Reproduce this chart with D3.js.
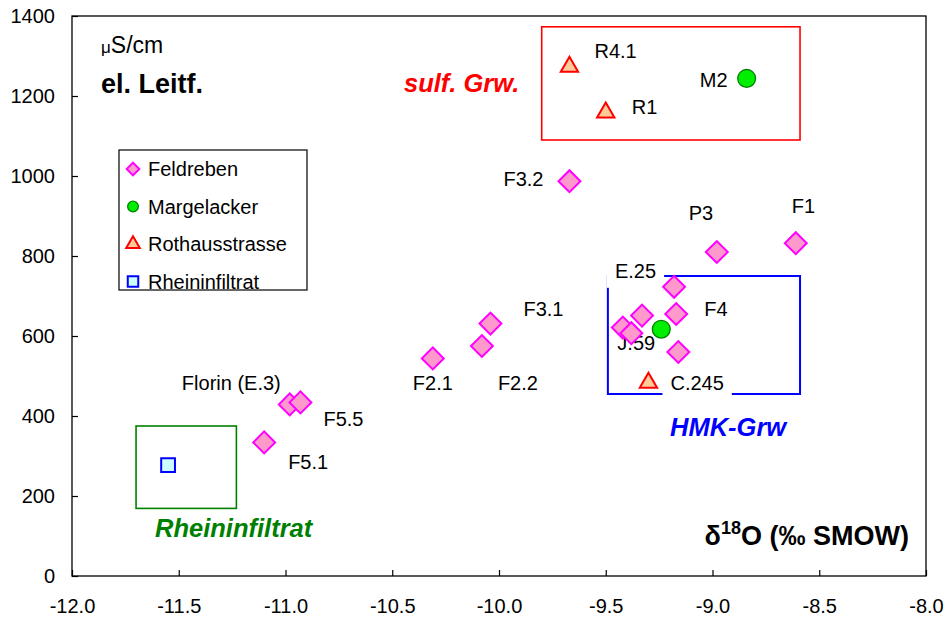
<!DOCTYPE html>
<html>
<head>
<meta charset="utf-8">
<script src="https://cdn.jsdelivr.net/npm/d3@7/dist/d3.min.js"></script>
<style>
  html, body { margin: 0; padding: 0; background: #fff; }
  svg text { font-family: "Liberation Sans", Arial, Helvetica, sans-serif; }
</style>
</head>
<body>
<svg id="chart" width="950" height="622"></svg>
<script>
// Electrical conductivity vs. delta-18O for groundwater sampling sites

const xTicks = [-12.0, -11.5, -11.0, -10.5, -10.0, -9.5, -9.0, -8.5, -8.0];
const yTicks = [0, 200, 400, 600, 800, 1000, 1200, 1400];

// Feldreben wells: [label, delta18O, conductivity]
const feldreben = [
  ["F3.2", -9.67, 987],
  ["P3", -8.98, 810],
  ["F1", -8.61, 832],
  ["E.25", -9.18, 723],
  ["F4", -9.17, 655],
  ["", -9.33, 651],
  ["", -9.42, 621],
  ["J.59", -9.38, 607],
  ["", -9.16, 560],
  ["F3.1", -10.04, 631],
  ["F2.2", -10.08, 575],
  ["F2.1", -10.31, 544],
  ["Florin (E.3)", -10.98, 429],
  ["F5.5", -10.93, 434],
  ["F5.1", -11.10, 334]
];
const margelacker = [
  ["M2", -8.84, 1244],
  ["", -9.24, 617]
];
const rothausstrasse = [
  ["R4.1", -9.67, 1273],
  ["R1", -9.50, 1159],
  ["C.245", -9.30, 483]
];
const rheininfiltrat = [
  ["", -11.55, 277]
];

// Groundwater type regions: [name, x0, x1, y0, y1]
const regions = [
  ["sulf. Grw.", -9.80, -8.59, 1090, 1373],
  ["Rheininfiltrat", -11.70, -11.23, 169, 375],
  ["HMK-Grw", -9.49, -8.59, 455, 750]
];

const legendNames = ["Feldreben", "Margelacker", "Rothausstrasse", "Rheininfiltrat"];

// ---------------------------------------------------------------
const svg = d3.select("#chart");
const plotL = 72, plotR = 926, plotT = 16, plotB = 576;

const x = d3.scaleLinear().domain([-12, -8]).range([plotL, plotR]);
const y = d3.scaleLinear().domain([0, 1400]).range([plotB, plotT]);

// marker styles per series
const styles = {
  Feldreben:      { shape: "diamond",  fill: "#ff99cc", stroke: "#ff00ff", sw: 2 },
  Margelacker:    { shape: "circle",   fill: "#00ee00", stroke: "#008000", sw: 1.3 },
  Rothausstrasse: { shape: "triangle", fill: "#ffcc99", stroke: "#ff0000", sw: 2 },
  Rheininfiltrat: { shape: "square",   fill: "#ccffff", stroke: "#0000ff", sw: 2 }
};

function markerPath(shape, big) {
  if (shape === "diamond") return d3.symbol(d3.symbolSquare, big ? 240 : 80)();
  if (shape === "circle") return d3.symbol(d3.symbolCircle, big ? 250 : 90)();
  if (shape === "triangle") return d3.symbol(d3.symbolTriangle, big ? 130 : 80)();
  return d3.symbol(d3.symbolSquare, big ? 190 : 110)();
}
function markerTransform(shape, px, py) {
  return `translate(${px},${py})` + (shape === "diamond" ? " rotate(45)" : "");
}

// axes (plain hyphen-minus in tick labels)
const xAxis = d3.axisBottom(x).tickValues(xTicks).tickFormat(d => d.toFixed(1))
  .tickSizeInner(-6).tickSizeOuter(0).tickPadding(23);
const yAxis = d3.axisLeft(y).tickValues(yTicks).tickFormat(d => String(d))
  .tickSizeInner(-6).tickSizeOuter(0).tickPadding(17);

const gx = svg.append("g").attr("transform", `translate(0,${plotB})`).call(xAxis);
const gy = svg.append("g").attr("transform", `translate(${plotL},0)`).call(yAxis);
[gx, gy].forEach(g => {
  g.select(".domain").remove();
  g.selectAll(".tick line").attr("stroke", "#000").attr("stroke-width", 1.2);
  g.selectAll(".tick text").attr("fill", "#000").attr("font-size", 20)
    .style("font-family", "'Liberation Sans', Arial, sans-serif");
});

// plot frame
svg.append("rect")
  .attr("x", plotL).attr("y", plotT)
  .attr("width", plotR - plotL).attr("height", plotB - plotT)
  .attr("fill", "none").attr("stroke", "#000").attr("stroke-width", 1.3);

// region boxes and their captions
const regionColors = { "sulf. Grw.": "#ff0000", "Rheininfiltrat": "#008000", "HMK-Grw": "#0000ff" };
const regionStroke = { "sulf. Grw.": 1.6, "Rheininfiltrat": 1.6, "HMK-Grw": 2 };
regions.forEach(([name, x0, x1, y0, y1]) => {
  svg.append("rect")
    .attr("x", x(x0)).attr("y", y(y1))
    .attr("width", x(x1) - x(x0)).attr("height", y(y0) - y(y1))
    .attr("fill", "none").attr("stroke", regionColors[name])
    .attr("stroke-width", regionStroke[name]);
});
const captionPos = {
  "sulf. Grw.": [404, 92],
  "Rheininfiltrat": [155, 537],
  "HMK-Grw": [670, 436]
};
regions.forEach(([name]) => {
  svg.append("text")
    .attr("x", captionPos[name][0]).attr("y", captionPos[name][1])
    .attr("font-size", 25.5).attr("font-weight", "bold").attr("font-style", "italic")
    .attr("fill", regionColors[name]).text(name);
});

// point labels: [dx, dy, anchor, opaque background]
const labelOffsets = {
  "F3.2": [-26, 5, "end"],
  "P3": [-28, -32, "start"],
  "F1": [-4, -30, "start"],
  "E.25": [-18, -9, "end", true],
  "F4": [28, 2, "start"],
  "J.59": [-14, 17, "start"],
  "C.245": [22, 7, "start", true],
  "R4.1": [25, -9, "start"],
  "R1": [26, 2, "start"],
  "M2": [-19, 9, "end"],
  "F3.1": [33, -8, "start"],
  "F2.2": [16, 44, "start"],
  "F2.1": [-20, 32, "start"],
  "F5.5": [23, 24, "start"],
  "Florin (E.3)": [-9, -14, "end"],
  "F5.1": [24, 27, "start"]
};

const seriesData = [
  ["Feldreben", feldreben],
  ["Margelacker", margelacker],
  ["Rothausstrasse", rothausstrasse],
  ["Rheininfiltrat", rheininfiltrat]
];

const labelLayer = svg.append("g");
seriesData.forEach(([, rows]) => {
  rows.forEach(([label, vx, vy]) => {
    if (!label) return;
    const [dx, dy, anchor, bg] = labelOffsets[label];
    const t = labelLayer.append("text")
      .attr("x", x(vx) + dx).attr("y", y(vy) + dy)
      .attr("text-anchor", anchor).attr("font-size", 20).attr("fill", "#000")
      .text(label);
    if (bg) {
      const b = t.node().getBBox();
      labelLayer.insert("rect", () => t.node())
        .attr("x", b.x - 8).attr("y", b.y - 2)
        .attr("width", b.width + 16).attr("height", b.height + 8)
        .attr("fill", "#fff");
    }
  });
});

// markers
seriesData.forEach(([name, rows]) => {
  const s = styles[name];
  svg.append("g").selectAll("path").data(rows).join("path")
    .attr("d", markerPath(s.shape, true))
    .attr("transform", d => markerTransform(s.shape, x(d[1]), y(d[2])))
    .attr("fill", s.fill).attr("stroke", s.stroke).attr("stroke-width", s.sw);
});

// legend
const legend = svg.append("g");
legend.append("rect")
  .attr("x", 119).attr("y", 150).attr("width", 188).attr("height", 140)
  .attr("fill", "#fff").attr("stroke", "#000").attr("stroke-width", 1.2);
legendNames.forEach((name, i) => {
  const s = styles[name];
  const cy = 169 + i * 37.5;
  legend.append("path")
    .attr("d", markerPath(s.shape, false))
    .attr("transform", markerTransform(s.shape, 133, cy))
    .attr("fill", s.fill).attr("stroke", s.stroke).attr("stroke-width", s.sw);
  legend.append("text")
    .attr("x", 148).attr("y", cy + 7).attr("font-size", 20).attr("fill", "#000")
    .text(name);
});

// axis titles
const unit = svg.append("text").attr("x", 101).attr("y", 53).attr("fill", "#000").attr("font-size", 23);
unit.append("tspan").attr("font-size", 17).text("\u03bc");
unit.append("tspan").text("S/cm");

svg.append("text").attr("x", 101).attr("y", 93)
  .attr("font-size", 27).attr("font-weight", "bold").attr("fill", "#000")
  .text("el. Leitf.");

const xt = svg.append("text").attr("x", 909).attr("y", 545).attr("text-anchor", "end")
  .attr("font-size", 27).attr("font-weight", "bold").attr("fill", "#000");
xt.append("tspan").text("\u03b4");
xt.append("tspan").attr("font-size", 18).attr("dy", -11).text("18");
xt.append("tspan").attr("dy", 11).text("O (\u2030 SMOW)");
</script>
</body>
</html>
